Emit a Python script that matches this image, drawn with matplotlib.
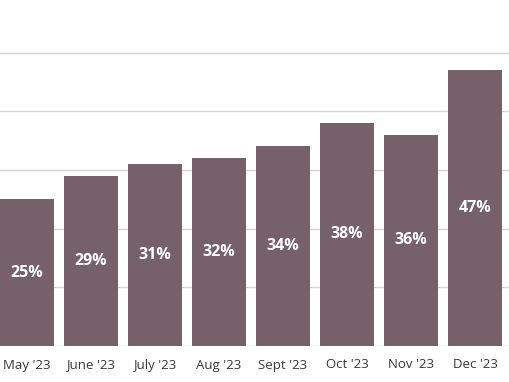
import matplotlib
matplotlib.use("Agg")
import matplotlib.pyplot as plt

months = ["May '23", "June '23", "July '23", "Aug '23", "Sept '23", "Oct '23", "Nov '23", "Dec '23"]
values = [25, 29, 31, 32, 34, 38, 36, 47]
labels = ["25%", "29%", "31%", "32%", "34%", "38%", "36%", "47%"]
grid_ticks = [0, 10, 20, 30, 40, 50]

plt.rcParams['font.family'] = ['Open Sans', 'DejaVu Sans']

fig = plt.figure(figsize=(5.10, 3.82), dpi=100)
ax = fig.add_axes([0, 36/382, 1, 1 - 36/382])

x = list(range(len(months)))
bars = ax.bar(x, values, width=0.84, color="#76606a", zorder=3)

for xi, v, lab in zip(x, values, labels):
    ax.text(xi, v / 2, lab, ha="center", va="center", color="white",
            fontsize=11.5, fontweight="bold", zorder=4)

ax.set_xlim(-0.42, 7.545)
ax.set_ylim(0, 346 / 5.87)
ax.set_yticks(grid_ticks)
ax.yaxis.grid(True, color="#d4d4d4", linewidth=1.0, zorder=0)
ax.tick_params(axis="y", left=False, labelleft=False)
ax.set_xticks(x)
ax.set_xticklabels(months, fontsize=9.5, color="#383838")
ax.tick_params(axis="x", length=0, pad=9)
for s in ax.spines.values():
    s.set_visible(False)

fig.savefig("out.png", dpi=100)
